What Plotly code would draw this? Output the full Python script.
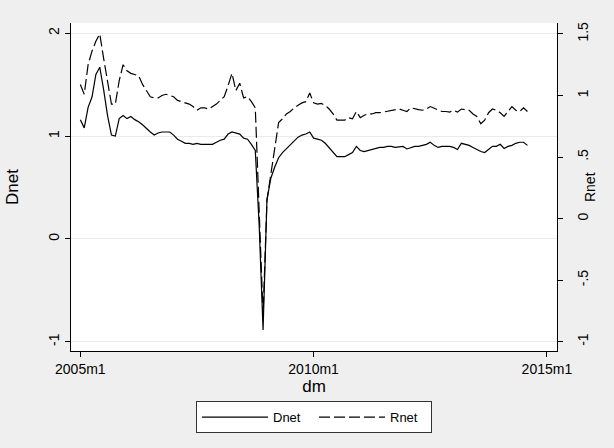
import plotly.graph_objects as go

# month index: 0 = 2005m1
dnet = [1.16, 1.08, 1.28, 1.38, 1.60, 1.67, 1.45, 1.20, 1.01, 1.00,
        1.17, 1.20, 1.17, 1.19, 1.16, 1.14, 1.11, 1.07, 1.04, 1.01,
        1.03, 1.04, 1.04, 1.04, 1.01, 0.97, 0.95, 0.93, 0.93, 0.92,
        0.93, 0.92, 0.92, 0.92, 0.92, 0.94, 0.96, 0.97, 1.02, 1.04,
        1.03, 1.02, 0.98, 0.97, 0.92, 0.86, 0.13, -0.885, 0.38, 0.59,
        0.70, 0.79, 0.84, 0.88, 0.91, 0.95, 0.99, 1.01, 1.02, 1.04,
        0.98, 0.97, 0.96, 0.93, 0.89, 0.85, 0.80, 0.80, 0.80, 0.82,
        0.84, 0.90, 0.86, 0.85, 0.86, 0.87, 0.88, 0.89, 0.89, 0.90,
        0.90, 0.89, 0.895, 0.90, 0.875, 0.89, 0.90, 0.90, 0.91, 0.92,
        0.94, 0.91, 0.89, 0.90, 0.90, 0.90, 0.89, 0.87, 0.93, 0.92,
        0.91, 0.89, 0.87, 0.85, 0.84, 0.87, 0.90, 0.90, 0.92, 0.88,
        0.90, 0.91, 0.93, 0.94, 0.94, 0.91]

rnet = [1.09, 1.01, 1.25, 1.36, 1.44, 1.50, 1.30, 1.10, 0.93, 0.93,
        1.12, 1.25, 1.20, 1.18, 1.17, 1.16, 1.09, 1.04, 0.99, 0.98,
        0.98, 1.00, 1.01, 1.00, 0.99, 0.96, 0.95, 0.94, 0.93, 0.91,
        0.88, 0.90, 0.90, 0.89, 0.91, 0.93, 0.96, 0.99, 1.08, 1.18,
        1.04, 1.10, 0.98, 0.99, 0.95, 0.90, 0.06, -0.78, 0.15, 0.36,
        0.59, 0.78, 0.81, 0.85, 0.87, 0.90, 0.92, 0.94, 0.95, 1.02,
        0.94, 0.93, 0.935, 0.92, 0.89, 0.85, 0.80, 0.80, 0.80, 0.82,
        0.81, 0.87, 0.82, 0.84, 0.85, 0.85, 0.86, 0.86, 0.865, 0.87,
        0.88, 0.885, 0.89, 0.88, 0.87, 0.90, 0.89, 0.885, 0.88, 0.89,
        0.91, 0.895, 0.88, 0.87, 0.87, 0.865, 0.88, 0.865, 0.89, 0.885,
        0.88, 0.85, 0.83, 0.77, 0.80, 0.86, 0.89, 0.88, 0.86, 0.83,
        0.87, 0.91, 0.88, 0.87, 0.90, 0.87]

x_tickvals = [0, 60, 120]
x_ticktext = ["2005m1", "2010m1", "2015m1"]
y1_tickvals = [-1, 0, 1, 2]
y1_ticktext = ["-1", "0", "1", "2"]
y2_tickvals = [-1, -0.5, 0, 0.5, 1, 1.5]
y2_ticktext = ["-1", "-.5", "0", ".5", "1", "1.5"]

months = list(range(len(dnet)))

FONT = "Liberation Sans, Arial, sans-serif"

fig = go.Figure()
fig.add_trace(go.Scatter(x=months, y=dnet, name="Dnet", mode="lines",
                         line=dict(color="black", width=1.2), yaxis="y"))
fig.add_trace(go.Scatter(x=months, y=rnet, name="Rnet", mode="lines",
                         line=dict(color="black", width=1.2, dash="11px,4px"),
                         yaxis="y2"))

fig.update_layout(
    width=614, height=448,
    margin=dict(l=71, r=57, t=23, b=97),
    paper_bgcolor="#efefef", plot_bgcolor="white",
    font=dict(family=FONT, color="black", size=14),
    showlegend=True,
    legend=dict(orientation="h", x=0.5, xanchor="center", y=-0.153, yanchor="top",
                bgcolor="white", bordercolor="#333333", borderwidth=1,
                font=dict(size=13), itemwidth=66, entrywidth=36,
                entrywidthmode="pixels", traceorder="normal"),
    xaxis=dict(range=[-2.4, 122.6], tickvals=x_tickvals, ticktext=x_ticktext,
               showgrid=False, zeroline=False, showline=True, linecolor="black",
               linewidth=1, ticks="outside", ticklen=5, tickcolor="black",
               automargin=False,
               title=dict(text="dm", standoff=0), tickfont=dict(size=14)),
    yaxis=dict(range=[-1.09, 2.10], tickvals=y1_tickvals, ticktext=y1_ticktext,
               tickangle=-90, showgrid=True, gridcolor="#eaeaea", gridwidth=1,
               zeroline=False, showline=True, linecolor="black", linewidth=1,
               ticks="outside", ticklen=5, tickcolor="black", automargin=False,
               title=dict(text="Dnet", standoff=23), tickfont=dict(size=14)),
    yaxis2=dict(range=[-1.076, 1.589], tickvals=y2_tickvals, ticktext=y2_ticktext,
                tickangle=-90, overlaying="y", side="right", showgrid=False,
                zeroline=False, showline=True, linecolor="black", linewidth=1,
                ticks="outside", ticklen=5, tickcolor="black", automargin=False,
                ticklabelstandoff=8, tickfont=dict(size=14)),
    annotations=[dict(text="Rnet", xref="paper", yref="paper", x=1.068, y=0.5,
                      xanchor="center", yanchor="middle", textangle=-90,
                      showarrow=False, font=dict(size=14))],
)

fig.write_html("out.html", config={"displayModeBar": False},
               post_script="document.body.style.margin='0';document.body.style.background='#efefef';")
